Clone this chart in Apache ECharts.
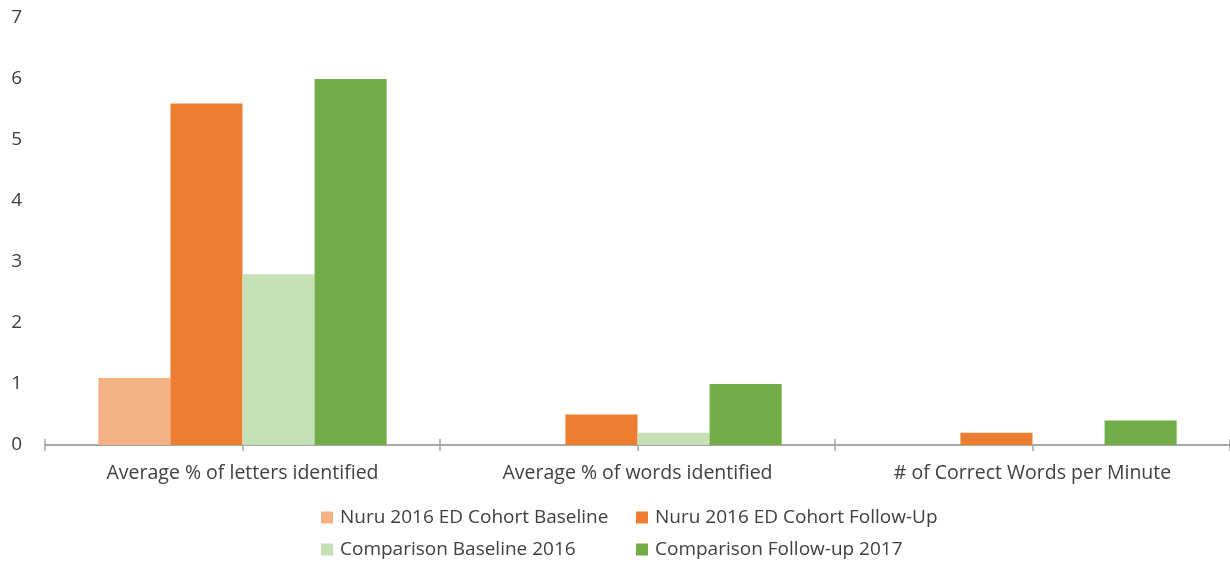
<!DOCTYPE html>
<html>
<head>
<meta charset="utf-8">
<script src="https://cdn.jsdelivr.net/npm/echarts@6/dist/echarts.min.js"></script>
<style>
  html, body { margin: 0; padding: 0; background: #fff; }
  #chart { width: 1230px; height: 565px; }
</style>
</head>
<body>
<div id="chart"></div>
<script>
// 数据
const categories = ['Average % of letters identified', 'Average % of words identified', '# of Correct Words per Minute'];
const seriesNames = ['Nuru 2016 ED Cohort Baseline', 'Nuru 2016 ED Cohort Follow-Up', 'Comparison Baseline 2016', 'Comparison Follow-up 2017'];
const nuruBaseline = [1.1, 0, 0];
const nuruFollowUp = [5.6, 0.5, 0.2];
const compBaseline = [2.8, 0.2, 0];
const compFollowUp = [6.0, 1.0, 0.4];
const yTicks = [0, 1, 2, 3, 4, 5, 6, 7];

const colors = ['#F4B183', '#ED7D31', '#C5E0B4', '#70AD47'];
const textColor = '#404040';
const fontFamily = 'Open Sans, Liberation Sans, sans-serif';

const chart = echarts.init(document.getElementById('chart'));

const baseX = {
  type: 'category',
  data: categories,
  position: 'bottom',
  axisLine: { show: true, lineStyle: { color: '#A6A6A6', width: 1.5 } },
  splitLine: { show: false },
};

const legendText = { fontSize: 19, color: textColor, fontFamily: fontFamily, padding: [0, 0, 0, 2] };

const option = {
  animation: false,
  color: colors,
  textStyle: { fontFamily: fontFamily },
  grid: { left: 45, right: 0, top: 18, bottom: 120 },
  legend: [
    {
      data: [seriesNames[0], seriesNames[2]],
      orient: 'vertical',
      left: 316, top: 503,
      itemWidth: 12, itemHeight: 12, itemGap: 13,
      icon: 'rect',
      textStyle: legendText
    },
    {
      data: [seriesNames[1], seriesNames[3]],
      orient: 'vertical',
      left: 631, top: 503,
      itemWidth: 12, itemHeight: 12, itemGap: 13,
      icon: 'rect',
      textStyle: legendText
    }
  ],
  xAxis: [
    Object.assign({}, baseX, {
      axisTick: { show: true, alignWithLabel: false, length: 6, lineStyle: { color: '#A6A6A6', width: 1.5 } },
      axisLabel: { show: true, color: textColor, fontSize: 19.5, margin: 18, fontFamily: fontFamily },
    }),
    Object.assign({}, baseX, {
      axisTick: { show: true, inside: true, alignWithLabel: false, length: 6, lineStyle: { color: '#A6A6A6', width: 1.5 } },
      axisLabel: { show: false },
    }),
    Object.assign({}, baseX, {
      axisTick: { show: true, alignWithLabel: true, length: 6, lineStyle: { color: '#A6A6A6', width: 1.5 } },
      axisLabel: { show: false },
    })
  ],
  yAxis: {
    type: 'value',
    min: yTicks[0],
    max: yTicks[yTicks.length - 1],
    interval: 1,
    axisLine: { show: false },
    axisTick: { show: false },
    splitLine: { show: false },
    axisLabel: { color: textColor, fontSize: 19, margin: 23, fontFamily: fontFamily }
  },
  series: [
    { name: seriesNames[0], type: 'bar', data: nuruBaseline, barGap: '0%', barCategoryGap: '27%' },
    { name: seriesNames[1], type: 'bar', data: nuruFollowUp, barGap: '0%', barCategoryGap: '27%' },
    { name: seriesNames[2], type: 'bar', data: compBaseline, barGap: '0%', barCategoryGap: '27%' },
    { name: seriesNames[3], type: 'bar', data: compFollowUp, barGap: '0%', barCategoryGap: '27%' }
  ]
};

chart.setOption(option);
</script>
</body>
</html>
